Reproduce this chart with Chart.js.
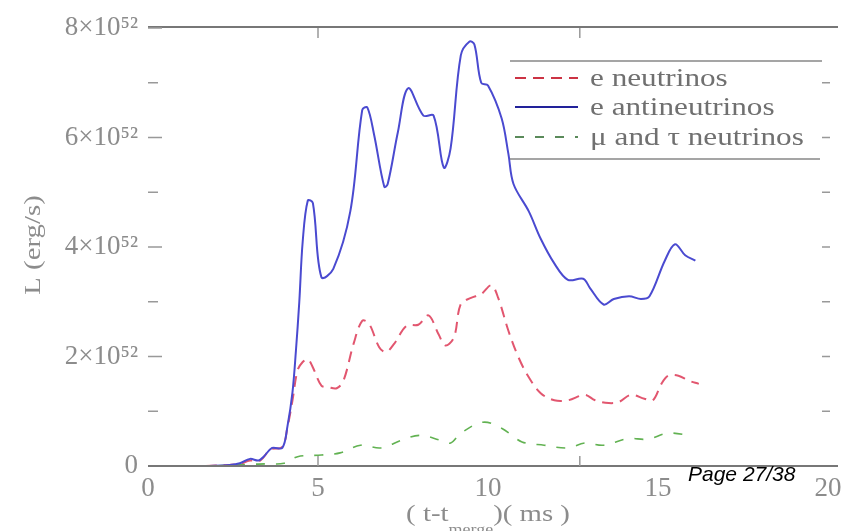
<!DOCTYPE html>
<html>
<head>
<meta charset="utf-8">
<script src="https://cdn.jsdelivr.net/npm/chart.js@4.4.1/dist/chart.umd.min.js"></script>
<style>
  html, body { margin: 0; padding: 0; background: #fff; }
</style>
</head>
<body>
<canvas id="lumChart" width="865" height="531"></canvas>
<script>
// time after merger (ms), luminosity in units of 10^52 erg/s
const tNuE = [1.7, 2.4, 2.7, 3.0, 3.3, 3.6, 3.95, 4.1, 4.25, 4.4, 4.55, 4.7, 4.85, 5.1, 5.3, 5.55, 5.75, 6.05, 6.3, 6.5, 6.8, 7.0, 7.25, 7.6, 7.95, 8.25, 8.55, 8.75, 9.0, 9.2, 9.5, 9.8, 10.1, 10.3, 10.6, 10.9, 11.2, 11.55, 11.95, 12.35, 12.85, 13.15, 13.55, 13.85, 14.2, 14.6, 14.85, 15.1, 15.3, 15.6, 15.9, 16.2];
const lNuE = [0, 0.02, 0.04, 0.1, 0.1, 0.3, 0.35, 0.7, 1.2, 1.75, 1.9, 1.95, 1.8, 1.47, 1.44, 1.42, 1.56, 2.24, 2.65, 2.6, 2.17, 2.08, 2.24, 2.56, 2.58, 2.75, 2.4, 2.2, 2.35, 2.96, 3.07, 3.14, 3.3, 3.07, 2.47, 1.98, 1.62, 1.33, 1.2, 1.2, 1.3, 1.2, 1.15, 1.17, 1.3, 1.23, 1.2, 1.5, 1.65, 1.65, 1.56, 1.5];

const tAntiNuE = [1.7, 2.4, 2.7, 3.0, 3.25, 3.4, 3.65, 3.95, 4.1, 4.25, 4.35, 4.45, 4.55, 4.7, 4.85, 5.1, 5.45, 5.95, 6.3, 6.45, 6.65, 6.95, 7.05, 7.35, 7.65, 8.1, 8.4, 8.7, 8.9, 9.2, 9.45, 9.6, 9.8, 10.0, 10.4, 10.6, 10.75, 11.2, 11.55, 11.95, 12.35, 12.8, 13.0, 13.4, 13.7, 14.15, 14.5, 14.75, 15.2, 15.5, 15.8, 16.1];
const lAntiNuE = [0, 0.02, 0.05, 0.13, 0.1, 0.17, 0.33, 0.33, 0.72, 1.35, 2.1, 3.0, 4.1, 4.85, 4.8, 3.45, 3.6, 4.65, 6.5, 6.55, 6.05, 5.1, 5.15, 6.1, 6.9, 6.4, 6.4, 5.45, 5.8, 7.5, 7.75, 7.7, 7.0, 6.95, 6.35, 5.7, 5.15, 4.65, 4.15, 3.7, 3.4, 3.42, 3.25, 2.95, 3.05, 3.1, 3.05, 3.1, 3.75, 4.05, 3.85, 3.75];

const tNuX = [2.0, 2.5, 3.0, 3.5, 4.0, 4.4, 5.1, 5.65, 6.25, 6.85, 7.45, 8.0, 8.6, 8.9, 9.2, 9.85, 10.4, 11.0, 11.65, 12.35, 12.85, 13.4, 14.1, 14.7, 15.3, 16.0];
const lNuX = [0, 0.02, 0.03, 0.04, 0.05, 0.17, 0.2, 0.24, 0.38, 0.33, 0.47, 0.56, 0.47, 0.42, 0.6, 0.8, 0.69, 0.44, 0.38, 0.33, 0.42, 0.38, 0.5, 0.49, 0.6, 0.55];

const seriesNames = ['e neutrinos', 'e antineutrinos', '\u03bc and \u03c4 neutrinos'];
const xTickValues = [0, 5, 10, 15, 20];
const yTickValues = [0, 2, 4, 6, 8];

const GREY = '#8c8c8c';
const SERIF = '"Liberation Serif", "DejaVu Serif", serif';

function toPoints(ts, ls) {
    return ts.map((t, i) => ({ x: t, y: ls[i] }));
}

// text with a slight horizontal stretch, like the scanned figure
function stretchText(ctx, str, x, y, font, color, align) {
    ctx.save();
    ctx.font = font;
    ctx.fillStyle = color;
    ctx.textBaseline = 'alphabetic';
    const w = ctx.measureText(str).width * 1.2;
    let x0 = x;
    if (align === 'center') x0 = x - w / 2;
    ctx.translate(x0, y);
    ctx.scale(1.2, 1);
    ctx.textAlign = 'left';
    ctx.fillText(str, 0, 0);
    ctx.restore();
    return w;
}

const framePlugin = {
    id: 'frame',
    afterDraw(chart) {
        const ctx = chart.ctx;
        const a = chart.chartArea;
        const xs = chart.scales.x, ys = chart.scales.y;

        ctx.save();
        ctx.strokeStyle = '#777';
        ctx.lineWidth = 2;
        ctx.beginPath();
        ctx.moveTo(a.left, a.top - 1); ctx.lineTo(a.right + 10, a.top - 1);
        ctx.moveTo(a.left, a.bottom); ctx.lineTo(a.right + 10, a.bottom);
        ctx.stroke();

        // inward ticks, left and right
        ctx.lineWidth = 1.5;
        ctx.strokeStyle = '#999';
        ctx.beginPath();
        for (let v = 1; v <= 8; v++) {
            const py = ys.getPixelForValue(v);
            const len = v % 2 === 0 ? 14 : 10;
            ctx.moveTo(a.left, py); ctx.lineTo(a.left + len, py);
            if (v < 8) { ctx.moveTo(a.right - 6, py); ctx.lineTo(a.right + 2, py); }
        }
        [5, 12.7].forEach(v => {
            const px = xs.getPixelForValue(v);
            ctx.moveTo(px, a.bottom); ctx.lineTo(px, a.bottom - 10);
            ctx.moveTo(px, a.top); ctx.lineTo(px, a.top + 10);
        });
        ctx.stroke();

        // legend
        const lx = 510, lr = 822, ltop = 61, lbot = 159;
        ctx.strokeStyle = '#888';
        ctx.lineWidth = 1.5;
        ctx.beginPath();
        ctx.moveTo(lx, ltop); ctx.lineTo(lr, ltop);
        ctx.moveTo(lx, lbot); ctx.lineTo(lr - 2, lbot);
        ctx.stroke();
        const rows = [78, 107, 137];
        const sampleColors = ['#cc3344', '#22229a', '#5a8a5a'];
        chart.data.datasets.forEach((ds, k) => {
            ctx.save();
            ctx.strokeStyle = sampleColors[k];
            ctx.lineWidth = 2;
            ctx.setLineDash(ds.borderDash || []);
            ctx.beginPath();
            ctx.moveTo(515, rows[k]); ctx.lineTo(578, rows[k]);
            ctx.stroke();
            ctx.restore();
            stretchText(ctx, ds.label, 590, rows[k] + 8, '26px ' + SERIF, '#707070', 'left');
        });

        // y axis title
        ctx.save();
        ctx.translate(40, 245);
        ctx.rotate(-Math.PI / 2);
        stretchText(ctx, 'L (erg/s)', 0, 0, '24px ' + SERIF, GREY, 'center');
        ctx.restore();

        // x axis title with subscript
        const cx = (a.left + a.right) / 2;
        ctx.font = '24px ' + SERIF;
        const w1 = ctx.measureText('( t-t').width * 1.2;
        const w3 = ctx.measureText(')( ms )').width * 1.2;
        ctx.font = '15px ' + SERIF;
        const w2 = ctx.measureText('merge').width * 1.2;
        const x0 = cx - (w1 + w2 + w3) / 2;
        stretchText(ctx, '( t-t', x0, 521, '24px ' + SERIF, GREY, 'left');
        stretchText(ctx, 'merge', x0 + w1, 534, '15px ' + SERIF, GREY, 'left');
        stretchText(ctx, ')( ms )', x0 + w1 + w2, 521, '24px ' + SERIF, GREY, 'left');

        // page number
        ctx.font = 'italic 21px "Liberation Sans", Arial, sans-serif';
        ctx.fillStyle = '#000';
        ctx.textAlign = 'left';
        ctx.fillText('Page 27/38', 688, 481);
        ctx.restore();
    }
};

const ctx = document.getElementById('lumChart').getContext('2d');
const lumChart = new Chart(ctx, {
    type: 'line',
    data: {
        datasets: [
            {
                label: seriesNames[0],
                data: toPoints(tNuE, lNuE),
                borderColor: '#e2566f',
                borderWidth: 2,
                borderDash: [11, 7],
                pointRadius: 0,
                tension: 0.35,
                order: 2
            },
            {
                label: seriesNames[1],
                data: toPoints(tAntiNuE, lAntiNuE),
                borderColor: '#4a4ad0',
                borderWidth: 2,
                pointRadius: 0,
                tension: 0.35,
                order: 1
            },
            {
                label: seriesNames[2],
                data: toPoints(tNuX, lNuX),
                borderColor: '#62b252',
                borderWidth: 1.6,
                borderDash: [9, 11],
                pointRadius: 0,
                tension: 0.35,
                order: 3
            }
        ]
    },
    options: {
        responsive: false,
        animation: false,
        layout: { padding: { top: 28, right: 37, left: 0, bottom: 0 } },
        plugins: { legend: { display: false }, tooltip: { enabled: false } },
        scales: {
            x: {
                type: 'linear',
                min: 0,
                max: 20,
                afterFit: s => { s.height = 65; },
                afterBuildTicks: s => { s.ticks = xTickValues.map(v => ({ value: v })); },
                grid: { display: false, drawTicks: false },
                border: { display: false },
                ticks: {
                    padding: 7,
                    color: GREY,
                    autoSkip: false,
                    maxRotation: 0,
                    font: { family: SERIF, size: 27 }
                }
            },
            y: {
                min: 0,
                max: 8,
                afterFit: s => { s.width = 148; },
                afterBuildTicks: s => { s.ticks = yTickValues.map(v => ({ value: v })); },
                grid: { display: false, drawTicks: false },
                border: { display: false },
                ticks: {
                    padding: 10,
                    color: GREY,
                    font: { family: SERIF, size: 27 },
                    callback: v => v === 0 ? '0' : v + '\u00d710\u2075\u00b2'
                }
            }
        }
    },
    plugins: [framePlugin]
});
</script>
</body>
</html>
